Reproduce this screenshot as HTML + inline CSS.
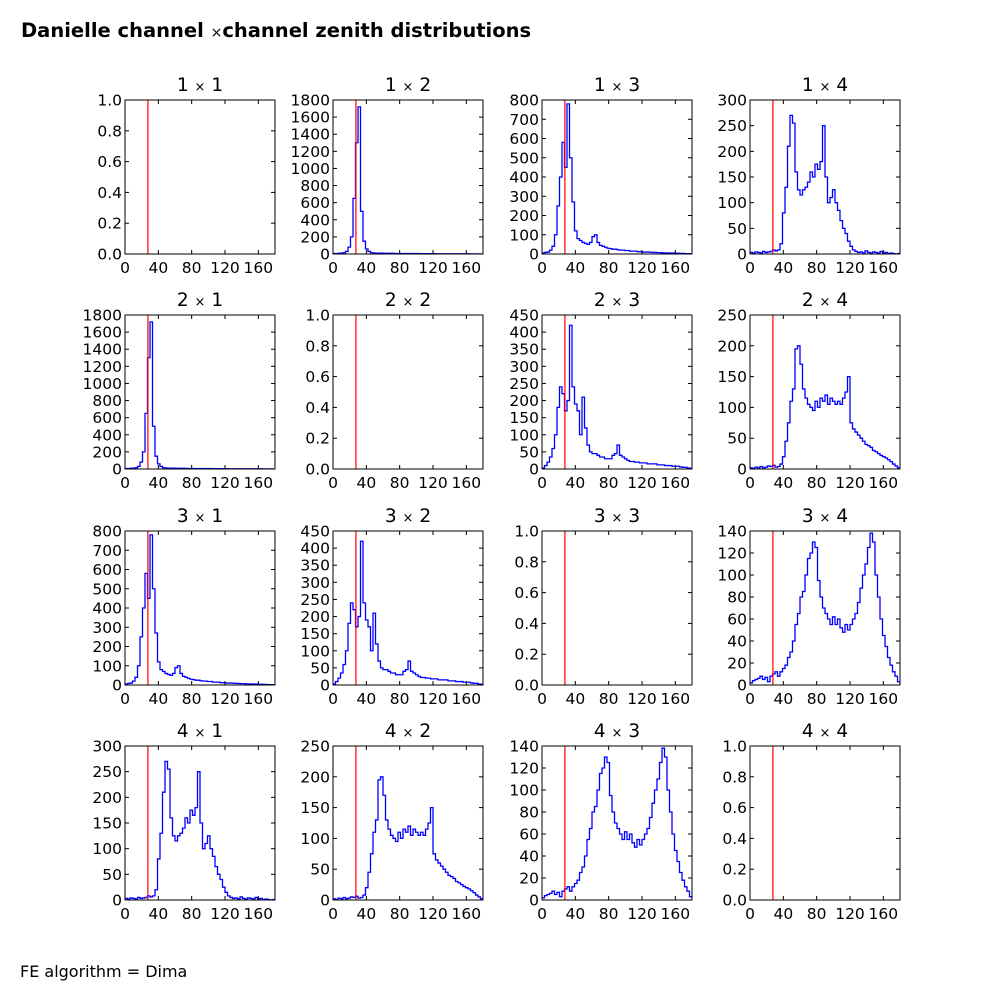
<!DOCTYPE html>
<html><head><meta charset="utf-8"><style>
body{margin:0;background:#fff;}
svg{display:block;font-family:"DejaVu Sans","Liberation Sans",sans-serif;}
</style></head><body>
<svg id="fig" width="1000" height="1000" viewBox="0 0 1000 1000">
<rect width="1000" height="1000" fill="#fff"/>
<text x="21" y="37" font-size="19.5" font-weight="bold">Danielle channel <tspan font-size="14" font-weight="normal">×</tspan>channel zenith distributions</text>
<text x="20" y="977" font-size="16">FE algorithm = Dima</text>
</svg>
<script>
const xTicks = [0, 40, 80, 120, 160];
const cutAngle = 27.5;
const binWidth = 3;
const distA = [5,5,8,10,15,30,80,200,650,1300,1720,500,150,60,30,15,12,10,10,10,8,8,8,8,7,6,6,6,6,5,5,5,5,5,5,4,4,4,4,4,4,3,3,3,3,3,3,3,2,2,2,2,2,2,2,1,1,1,1,0];
const distB = [5,8,10,20,40,100,250,400,580,450,780,500,270,120,80,70,60,55,50,60,90,100,60,45,40,35,30,28,25,25,22,20,20,18,18,15,15,15,12,12,10,10,10,9,8,8,7,7,6,6,5,5,5,4,4,3,3,2,2,1];
const distC = [3,10,20,35,60,100,180,240,220,170,200,420,240,190,170,100,210,120,70,50,45,45,40,35,35,30,30,30,40,45,70,40,35,30,25,22,22,20,20,18,18,18,15,15,15,15,12,12,12,10,10,10,8,8,8,6,5,5,3,2];
const distD = [3,2,4,3,2,5,3,4,5,8,6,8,20,80,130,210,270,255,160,125,115,125,130,140,160,150,175,165,180,250,150,100,110,125,100,85,65,50,40,25,15,8,5,3,4,2,6,3,2,4,3,2,5,2,3,1,2,1,0,1];
const distE = [2,1,3,2,4,2,3,5,4,6,3,4,8,20,45,75,110,130,195,200,170,130,115,105,100,95,110,100,115,110,120,105,115,110,105,110,105,115,125,150,75,65,60,55,50,45,40,38,35,30,28,25,22,20,18,15,12,8,5,2];
const distF = [2,4,5,6,8,5,7,3,8,10,12,8,12,15,18,25,30,40,55,65,80,85,100,115,120,130,125,95,80,70,65,60,55,62,55,60,52,48,55,50,55,60,65,75,88,100,110,125,138,130,100,80,60,45,35,25,18,12,8,3];
const yTicksA = [0,200,400,600,800,1000,1200,1400,1600,1800];
const yTicksB = [0,100,200,300,400,500,600,700,800];
const yTicksC = [0,50,100,150,200,250,300,350,400,450];
const yTicksD = [0,50,100,150,200,250,300];
const yTicksE = [0,50,100,150,200,250];
const yTicksF = [0,20,40,60,80,100,120,140];
const yTicksEmpty = [0.0,0.2,0.4,0.6,0.8,1.0];

const grid = [
 [null, [distA,yTicksA], [distB,yTicksB], [distD,yTicksD]],
 [[distA,yTicksA], null, [distC,yTicksC], [distE,yTicksE]],
 [[distB,yTicksB], [distC,yTicksC], null, [distF,yTicksF]],
 [[distD,yTicksD], [distE,yTicksE], [distF,yTicksF], null]
];
const colX = [125,333,542,750], rowY = [100,315,531,746], W = 150, H = 154;
const NS = "http://www.w3.org/2000/svg";
const svg = document.getElementById('fig');
function mk(tag, attrs, parent){ const e=document.createElementNS(NS,tag); for(const k in attrs) e.setAttribute(k,attrs[k]); (parent||svg).appendChild(e); return e; }

for(let r=0;r<4;r++) for(let c=0;c<4;c++){
  const cell = grid[r][c];
  const x0=colX[c], y0=rowY[r];
  const ticks = cell ? cell[1] : yTicksEmpty;
  const ymax = ticks[ticks.length-1];
  const sx = v => x0 + v/180*W;
  const sy = v => y0 + H - v/ymax*H;
  const g = mk('g',{});
  
  
  const cid='clip'+r+c;
  const cp = mk('clipPath',{id:cid},g); mk('rect',{x:x0,y:y0,width:W,height:H},cp);
  if(cell){
    const d = cell[0];
    let p = 'M'+sx(0)+','+sy(0);
    d.forEach((v,i)=>{ p += ' L'+sx(i*binWidth)+','+sy(v)+' L'+sx((i+1)*binWidth)+','+sy(v); });
    p += ' L'+sx(d.length*binWidth)+','+sy(0);
    const hl = mk('path',{d:p,fill:'none',stroke:'#0000ff','stroke-width':1.3,'clip-path':'url(#'+cid+')'},g);
    
    
  }
  const rl = mk('line',{x1:sx(cutAngle),x2:sx(cutAngle),y1:y0,y2:y0+H,stroke:'#ff0000','stroke-width':1.2},g);
  
  
  const fr = mk('rect',{x:x0,y:y0,width:W,height:H,fill:'none',stroke:'#000','stroke-width':1},g);
  
  
  xTicks.forEach(t=>{
    const X=sx(t);
    mk('line',{x1:X,x2:X,y1:y0+H,y2:y0+H-4,stroke:'#000'},g);
    mk('line',{x1:X,x2:X,y1:y0,y2:y0+4,stroke:'#000'},g);
    const tl = mk('text',{x:X,y:y0+H+19,'font-size':15.5,'text-anchor':'middle'},g);
    tl.textContent = t;
    
    
  });
  ticks.forEach(t=>{
    const Y=sy(t);
    mk('line',{x1:x0,x2:x0+4,y1:Y,y2:Y,stroke:'#000'},g);
    mk('line',{x1:x0+W,x2:x0+W-4,y1:Y,y2:Y,stroke:'#000'},g);
    const tl = mk('text',{x:x0-3,y:Y+5.5,'font-size':15.5,'text-anchor':'end'},g);
    tl.textContent = cell ? t : t.toFixed(1);
    
    
  });
  const tt = mk('text',{x:x0+W/2,y:y0-9,'font-size':18.5,'text-anchor':'middle'},g);
  tt.innerHTML = (r+1)+'  <tspan font-size="13">×</tspan> '+(c+1);
  
  
}
</script>
</body></html>
